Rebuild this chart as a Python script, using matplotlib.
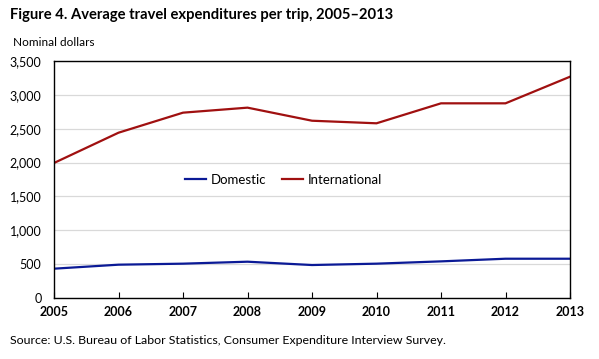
import matplotlib
matplotlib.use("Agg")
import matplotlib.pyplot as plt

years = [2005, 2006, 2007, 2008, 2009, 2010, 2011, 2012, 2013]
domestic = [433, 492, 507, 536, 487, 507, 541, 580, 580]
international = [1994, 2441, 2737, 2811, 2618, 2580, 2875, 2875, 3268]
yticks = [0, 500, 1000, 1500, 2000, 2500, 3000, 3500]

plt.rcParams['font.family'] = ['Lato', 'DejaVu Sans']

fig = plt.figure(figsize=(5.99, 3.59), dpi=100)
ax = fig.add_axes([54/599, 61/359, (570-54)/599, (298-61)/359])

ax.plot(years, domestic, color='#0b1a96', lw=1.6, label='Domestic')
ax.plot(years, international, color='#a01010', lw=1.6, label='International')

ax.set_xlim(2005, 2013)
ax.set_ylim(0, 3500)
ax.set_yticks(yticks)
ax.set_yticklabels([f"{v:,}" for v in yticks], fontsize=9)
ax.set_xticks(years)
ax.set_xticklabels([str(y) for y in years], fontsize=9, fontweight='bold')
ax.tick_params(axis='y', length=0, pad=9)
ax.tick_params(axis='x', direction='in', length=4, pad=6, width=0.8)
ax.grid(axis='y', color='#d9d9d9', lw=0.9)
ax.set_axisbelow(True)
for s in ax.spines.values():
    s.set_color('black')
    s.set_linewidth(1.0)

ax.legend(loc='center', bbox_to_anchor=(0.445, 0.5), ncol=2, frameon=False,
          fontsize=9.5, handlelength=1.6, handletextpad=0.35, columnspacing=1.2)

fig.text(10/599, 1 - 15/359, 'Figure 4. Average travel expenditures per trip, 2005\u20132013',
         fontsize=10.6, fontweight='bold', va='center', ha='left')
fig.text(13/599, 1 - 42/359, 'Nominal dollars', fontsize=8.5, va='center', ha='left')
fig.text(10/599, 1 - 340/359, 'Source: U.S. Bureau of Labor Statistics, Consumer Expenditure Interview Survey.',
         fontsize=8.9, va='center', ha='left')

fig.savefig('out.png', dpi=100)
